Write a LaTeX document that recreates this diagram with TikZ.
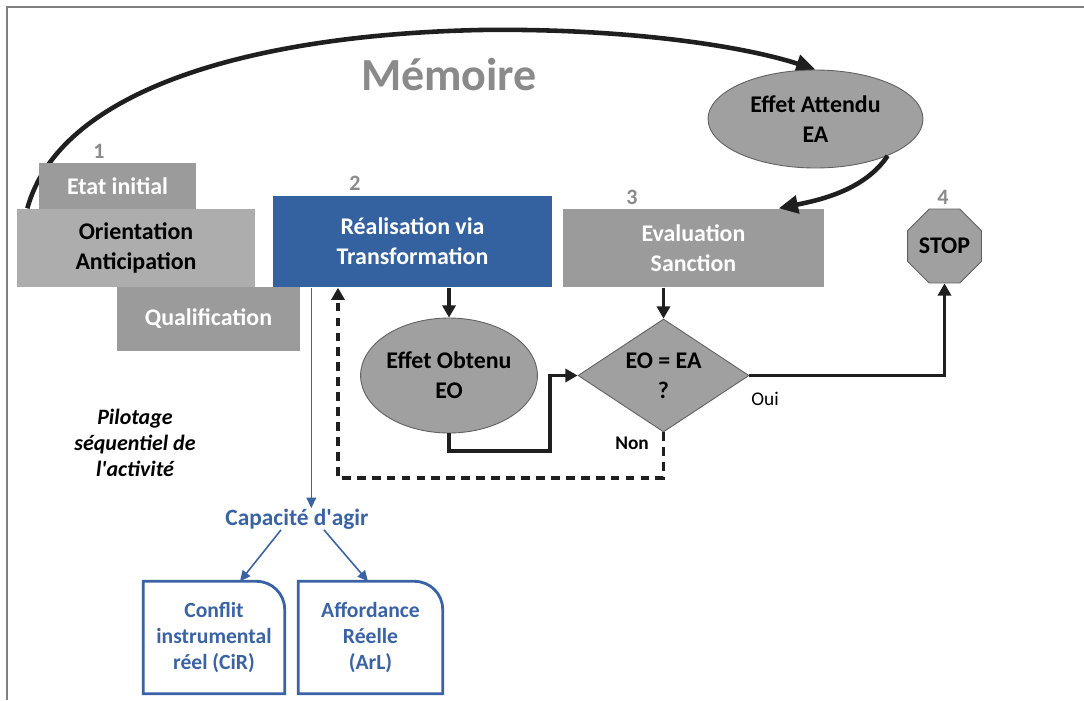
\documentclass[tikz,border=0pt]{standalone}
\usepackage{fontspec}
\setmainfont{Carlito}
\usetikzlibrary{arrows.meta, positioning, shapes.geometric, calc, backgrounds}

\definecolor{stepgray}{HTML}{9B9B9B}
\definecolor{palegray}{HTML}{ADADAD}
\definecolor{shapegray}{HTML}{A0A0A0}
\definecolor{rimgray}{HTML}{606060}
\definecolor{realblue}{HTML}{3461A0}
\definecolor{capablue}{HTML}{3A63A6}
\definecolor{numgray}{HTML}{8A8A8A}

\tikzset{
  every picture/.style={line width=0.8pt},
  every node/.style={font=\fontsize{13.6}{17}\selectfont\bfseries, align=center},
  phase/.style={rectangle, fill=stepgray, text=white, inner sep=0pt},
  effet/.style={ellipse, draw=rimgray, line width=0.5pt, fill=shapegray, inner sep=0pt},
  verdict/.style={diamond, aspect=1.5, draw=rimgray, line width=0.5pt, fill=shapegray, inner sep=0pt},
  halt/.style={regular polygon, regular polygon sides=8, draw=rimgray, line width=0.5pt, fill=shapegray, inner sep=0pt, minimum size=1.6cm},
  num/.style={text=numgray, font=\fontsize{12.5}{14}\selectfont\bfseries},
  flow/.style={line width=1.8pt, draw=black!88, -{Triangle[length=7pt, width=7.5pt]}},
  memo/.style={line width=2.6pt, draw=black!88, -{Triangle[length=11pt, width=10pt]}},
  capline/.style={line width=0.9pt, draw=capablue, -{Triangle[length=6pt, width=5.5pt]}},
  capbox/.style={inner sep=0pt, text=capablue, font=\fontsize{12.3}{15}\selectfont\bfseries},
  capframe/.style={line width=1.6pt, draw=capablue},
}

\begin{document}
\begin{tikzpicture}[x=0.02cm, y=-0.02cm, tips=proper]
    \useasboundingbox (0,0) rectangle (1084,700);
    \draw[rimgray!80, line width=0.6pt] (7,700) -- (7,7) -- (1084,7);

    \node[text=numgray, font=\fontsize{26.2}{30}\selectfont\bfseries] (memoire) at (449,75) {Mémoire};

    % etapes
    \node[phase, minimum width=3.14cm, minimum height=0.92cm] (etat) at (117.5,186) {Etat initial};
    \node[phase, fill=palegray, text=black, minimum width=4.76cm, minimum height=1.56cm] (orient) at (136,248) {Orientation\\Anticipation};
    \node[phase, minimum width=3.66cm, minimum height=1.28cm] (qualif) at (208.5,319) {Qualification};
    \node[phase, fill=realblue, minimum width=5.58cm, minimum height=1.82cm] (real) at (412.5,241.5) {Réalisation via\\Transformation};
    \node[phase, minimum width=5.22cm, minimum height=1.56cm] (eval) at (693.5,248) {Evaluation\\Sanction};
    \node[halt] (stop) at (944.5,246) {STOP};

    \node[num] (n1) at (99,151) {1};
    \node[num] (n2) at (355,183) {2};
    \node[num] (n3) at (632,197) {3};
    \node[num] (n4) at (943,197) {4};

    \node[effet, minimum width=4.3cm, minimum height=1.96cm] (ea) at (815.5,119) {Effet Attendu\\EA};
    \node[effet, minimum width=3.48cm, minimum height=2.3cm] (eo) at (449,375.5) {Effet Obtenu\\EO};
    \node[verdict, minimum width=3.42cm, minimum height=2.26cm] (test) at (663.5,375.5) {EO = EA\\?};
    \node[font=\fontsize{11}{13}\selectfont] (oui) at (765,399) {Oui};
    \node[font=\fontsize{11}{13}\selectfont\bfseries] (non) at (632,443) {Non};

    \node[font=\fontsize{12.5}{14.8}\selectfont\bfseries\itshape] (pilot) at (135,443) {Pilotage\\séquentiel de\\l\textquotesingle activité};

    % capacite d'agir
    \node[capbox, font=\fontsize{13.3}{16}\selectfont\bfseries] (capa) at (297,519) {Capacité d\textquotesingle agir};
    \node[capbox, minimum width=2.8cm, minimum height=2.22cm] (cir) at (214,637.5) {Conflit\\instrumental\\réel (CiR)};
    \node[capbox, minimum width=2.86cm, minimum height=2.22cm] (arl) at (370.5,637.5) {Affordance\\Réelle\\(ArL)};

    \begin{scope}[on background layer]
      \draw[memo] ([xshift=0.22cm]orient.north west) .. controls (60,90) and (250,35) .. (480,30) .. controls (620,28) and (740,45) .. (ea.north);
    \end{scope}
    \draw[memo] (ea.-27) .. controls (865,190) and (820,200) .. ([xshift=-0.92cm]eval.north east);

    \draw[flow] (eo.north |- real.south) -- (eo.north);
    \draw[flow] (test.north |- eval.south) -- (test.north);
    \coordinate (jog) at (550,451);
    \draw[flow] (eo.south) |- (jog) |- (test.west);
    \draw[flow] (test.east) -| (stop.south);
    \coordinate (back) at (338,478);
    \draw[flow, dash pattern=on 5pt off 3.5pt] (test.south) |- (back) -- (back |- real.south);

    \coordinate (capfoot) at ([xshift=0.78cm]real.south west);
    \draw[capline] (capfoot) -- (capfoot |- capa.north);
    \draw[capline] ([xshift=-0.32cm]capa.south) -- ([xshift=0.52cm]cir.north);
    \draw[capline] ([xshift=0.54cm]capa.south) -- ([xshift=-0.05cm]arl.north);
    \foreach \b in {cir, arl}
      \draw[capframe] (\b.south west) -- (\b.north west) -- ([xshift=-16pt]\b.north east) arc[start angle=90, end angle=0, radius=16pt] -- (\b.south east) -- cycle;
\end{tikzpicture}
\end{document}
